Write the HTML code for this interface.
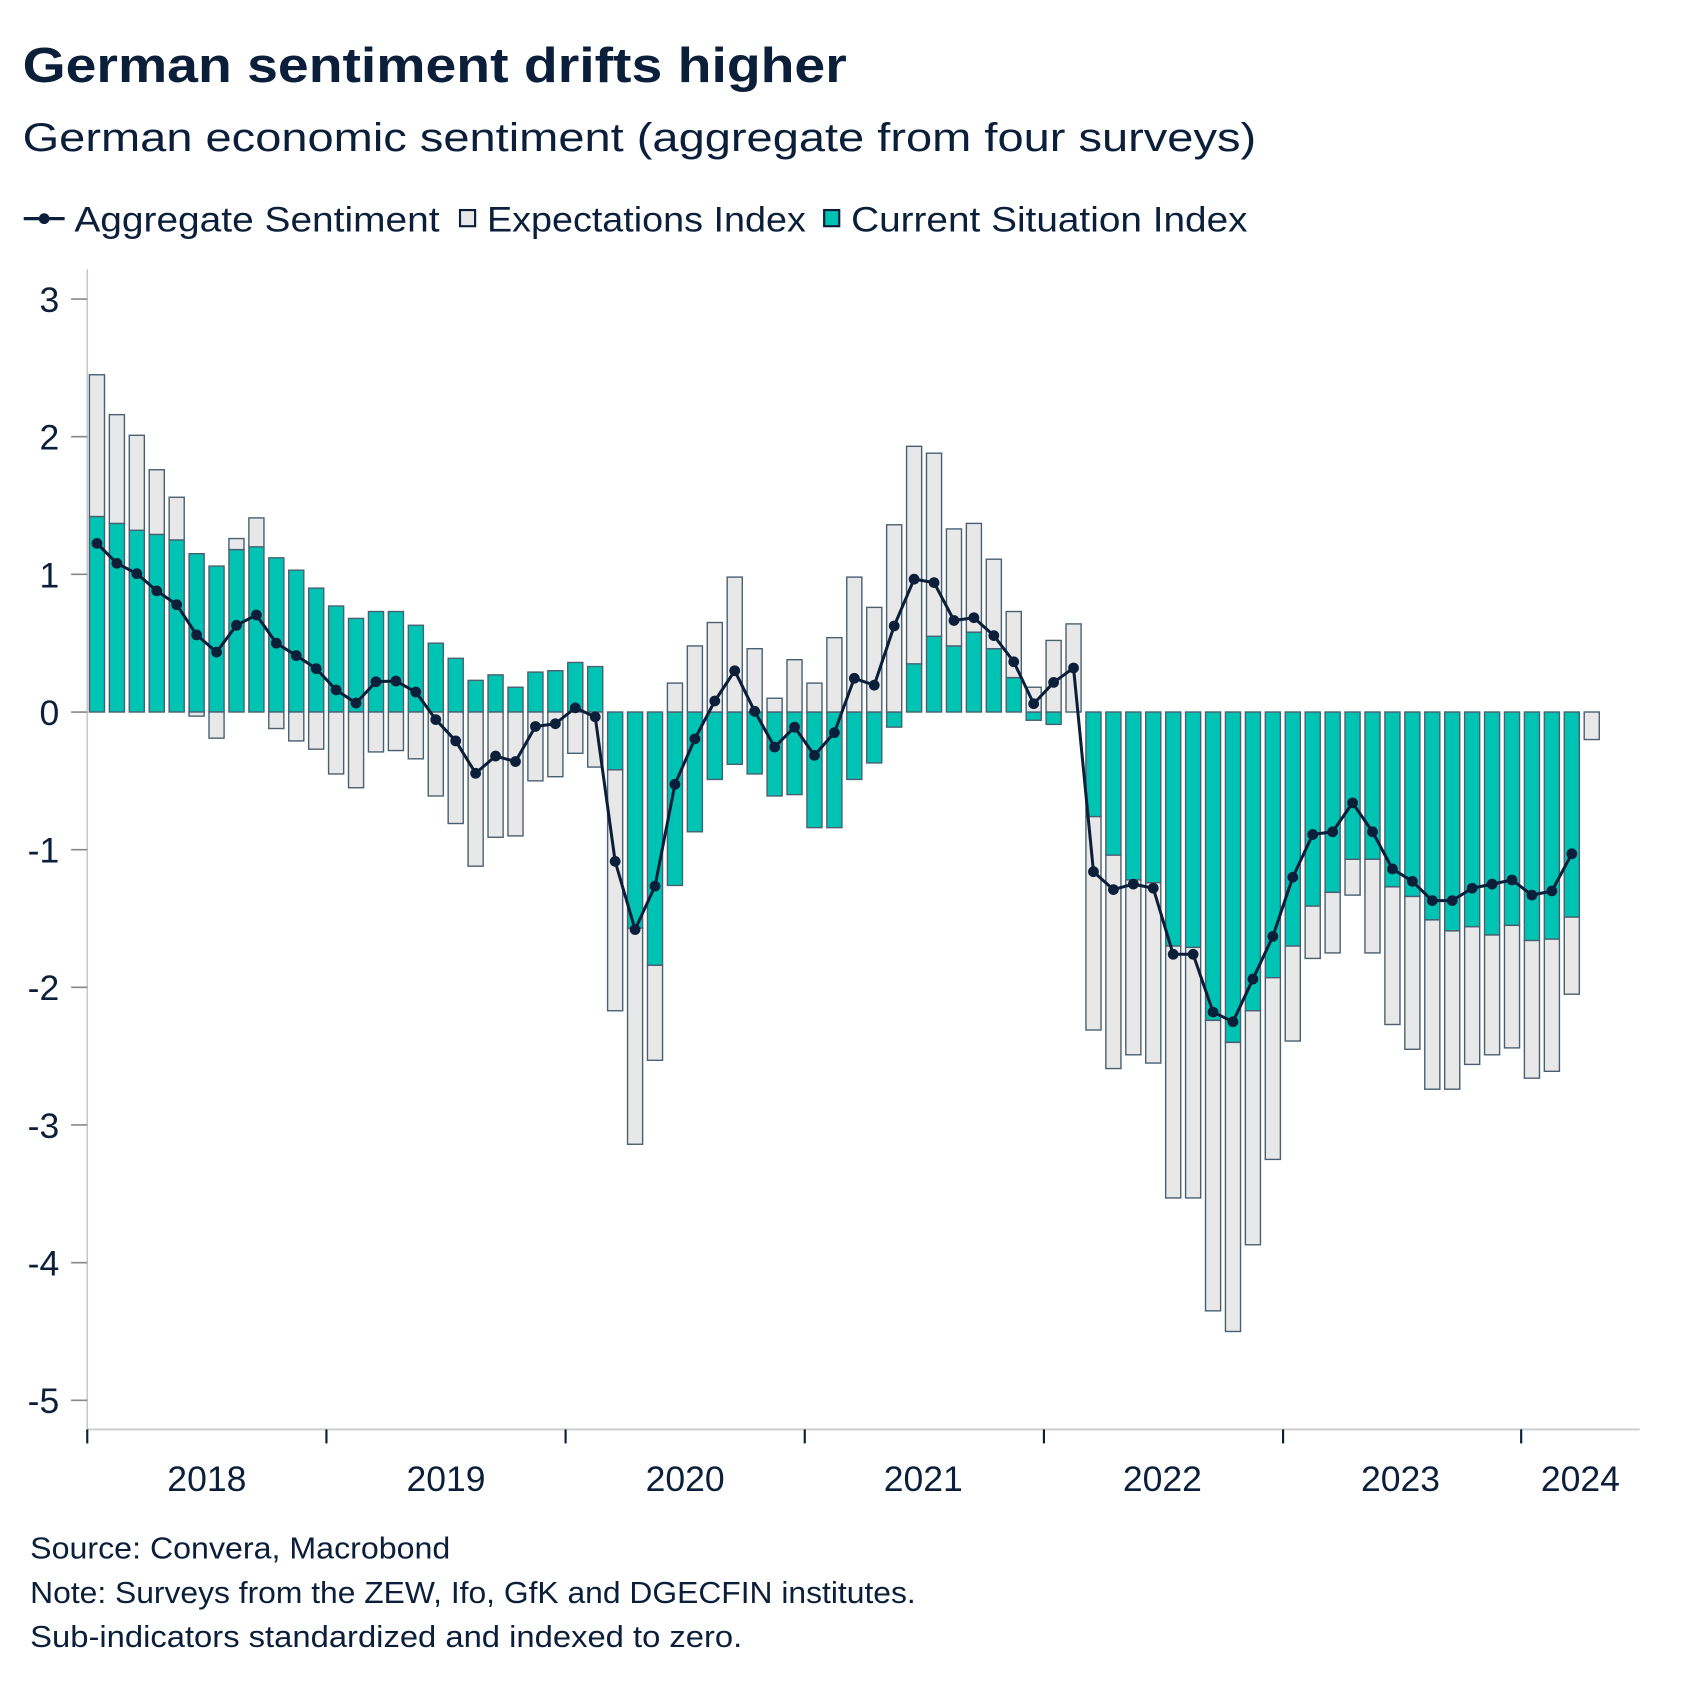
<!DOCTYPE html>
<html><head><meta charset="utf-8"><style>
html,body{margin:0;padding:0;background:#fff}
svg{display:block}
text{font-family:"Liberation Sans",sans-serif;fill:#0b1f3a}
</style></head><body>
<svg id="c" width="1686" height="1689" viewBox="0 0 1565 1568" preserveAspectRatio="none" xmlns="http://www.w3.org/2000/svg">
<text x="21" y="76" font-size="46" font-weight="bold" textLength="765" lengthAdjust="spacingAndGlyphs">German sentiment drifts higher</text>
<text x="21" y="140" font-size="37" textLength="1145" lengthAdjust="spacingAndGlyphs">German economic sentiment (aggregate from four surveys)</text>
<line x1="22" y1="203" x2="60" y2="203" stroke="#0b1f3a" stroke-width="3"/>
<circle cx="41" cy="203" r="5" fill="#0b1f3a"/>
<text x="69" y="215" font-size="33" textLength="339" lengthAdjust="spacingAndGlyphs">Aggregate Sentiment</text>
<rect x="427" y="195" width="14" height="15" fill="#e8e8e8" stroke="#0b1f3a" stroke-width="2"/>
<text x="452" y="215" font-size="33" textLength="296" lengthAdjust="spacingAndGlyphs">Expectations Index</text>
<rect x="765" y="195" width="14" height="15" fill="#00c4b3" stroke="#0b1f3a" stroke-width="2"/>
<text x="790" y="215" font-size="33" textLength="368" lengthAdjust="spacingAndGlyphs">Current Situation Index</text>
<line x1="81" y1="250" x2="81" y2="1327" stroke="#c8c8c8" stroke-width="1.5"/>
<line x1="81" y1="1327" x2="1522" y2="1327" stroke="#d0d0d0" stroke-width="2"/>
<g id="g"></g>
<text x="28" y="1447" font-size="28" textLength="390" lengthAdjust="spacingAndGlyphs">Source: Convera, Macrobond</text>
<text x="28" y="1488" font-size="28" textLength="822" lengthAdjust="spacingAndGlyphs">Note: Surveys from the ZEW, Ifo, GfK and DGECFIN institutes.</text>
<text x="28" y="1529" font-size="28" textLength="661" lengthAdjust="spacingAndGlyphs">Sub-indicators standardized and indexed to zero.</text>
</svg>
<script>
var C=[1.42,1.37,1.32,1.29,1.25,1.15,1.06,1.18,1.20,1.12,1.03,.90,.77,.68,.73,.73,.63,.50,.39,.23,.27,.18,.29,.30,.36,.33,
-.42,-1.57,-1.84,-1.26,-.87,-.49,-.38,-.45,-.61,-.60,-.84,-.84,-.49,-.37,-.11,.35,.55,.48,.58,.46,.25,-.06,-.09,0,
-.76,-1.04,-1.22,-1.24,-1.70,-1.71,-2.24,-2.40,-2.17,-1.93,-1.70,-1.41,-1.31,-1.07,-1.07,-1.27,-1.34,-1.51,-1.59,-1.56,-1.62,-1.55,-1.66,-1.65,-1.49,0];
var E=[1.03,.79,.69,.47,.31,-.03,-.19,.08,.21,-.12,-.21,-.27,-.45,-.55,-.29,-.28,-.34,-.61,-.81,-1.12,-.91,-.90,-.50,-.47,-.30,-.40,
-1.75,-1.57,-.69,.21,.48,.65,.98,.46,.10,.38,.21,.54,.98,.76,1.36,1.58,1.33,.85,.79,.65,.48,.18,.52,.64,
-1.55,-1.55,-1.27,-1.31,-1.83,-1.82,-2.11,-2.10,-1.70,-1.32,-.69,-.38,-.44,-.26,-.68,-1.00,-1.11,-1.23,-1.15,-1.00,-.87,-.89,-1.00,-.96,-.56,-.20];
var Ad={50:-1.16,51:-1.29,52:-1.25,53:-1.28,54:-1.76,55:-1.76,56:-2.18,57:-2.25,58:-1.94,59:-1.63,60:-1.20,61:-.89,62:-.87,63:-.66,64:-.87,65:-1.14,66:-1.23,67:-1.37,68:-1.37,69:-1.28,70:-1.25,71:-1.22,72:-1.33,73:-1.30,74:-1.03,27:-1.58};
function Y(v){return 661-v*127.8}
var s='';
for(var v=3;v>=-5;v--){var y=Y(v);s+='<line x1="66" y1="'+y+'" x2="81" y2="'+y+'" stroke="#888" stroke-width="1.5"/>';
s+='<text x="55" y="'+(y+12)+'" font-size="33" text-anchor="end">'+(v<0?'-'+(-v):v)+'</text>';}
var yt=[81,303,525,747,969,1191,1412];
yt.forEach(function(x){s+='<line x1="'+x+'" y1="1327" x2="'+x+'" y2="1340" stroke="#0b1f3a" stroke-width="2"/>';});
var yl=[[192,'2018'],[414,'2019'],[636,'2020'],[857,'2021'],[1079,'2022'],[1300,'2023'],[1467,'2024']];
yl.forEach(function(a){s+='<text x="'+a[0]+'" y="1384" font-size="33" text-anchor="middle">'+a[1]+'</text>';});
function rect(x,a,b,f){var t=Math.min(Y(a),Y(b)),h=Math.abs(Y(a)-Y(b));if(h<0.5)return '';
return '<rect x="'+(x-7)+'" y="'+t+'" width="14" height="'+h+'" fill="'+f+'" stroke="#4a6072" stroke-width="1.3"/>';}
var pts=[];
for(var i=0;i<C.length;i++){var x=90+18.5*i,c=C[i],e=E[i];
var pos=0,neg=0;
if(c>=0){s+=rect(x,0,c,'#00c4b3');pos=c}else{s+=rect(x,0,c,'#00c4b3');neg=c}
if(e>=0){s+=rect(x,pos,pos+e,'#e8e8e8')}else{s+=rect(x,neg,neg+e,'#e8e8e8')}
if(i<75){var a=(Ad[i]!==undefined)?Ad[i]:(c+e)/2;pts.push([x,Y(a)]);}
}
s+='<polyline fill="none" stroke="#0b1f3a" stroke-width="2.8" stroke-linejoin="round" points="'+pts.map(function(p){return p.join(',')}).join(' ')+'"/>';
pts.forEach(function(p){s+='<circle cx="'+p[0]+'" cy="'+p[1]+'" r="5" fill="#0b1f3a"/>';});
document.getElementById('g').innerHTML=s;
</script>
</body></html>
